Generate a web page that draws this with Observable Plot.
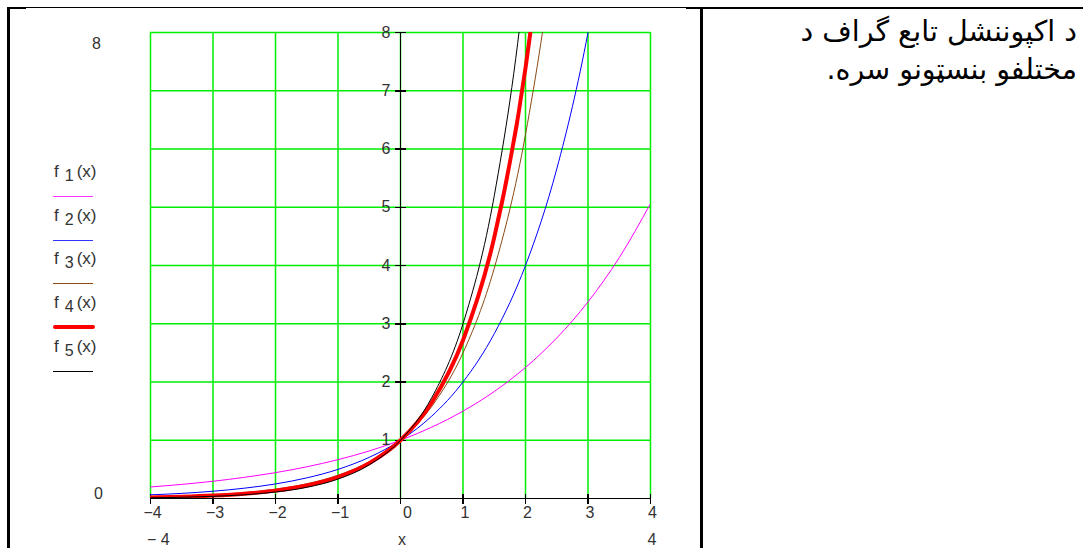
<!DOCTYPE html>
<html>
<head>
<meta charset="utf-8">
<script src="https://cdn.jsdelivr.net/npm/d3@7"></script>
<script src="https://cdn.jsdelivr.net/npm/@observablehq/plot@0.6"></script>
<style>
  html, body { margin: 0; padding: 0; background: #fff; }
  #wrap { position: relative; width: 1083px; height: 548px; overflow: hidden; font-family: "Liberation Sans", Arial, sans-serif; color: #222; }
  #chart { position: absolute; left: 0; top: 0; }
  .b { position: absolute; background: #000; }
  .lbl { position: absolute; font-size: 16px; line-height: 16px; color: #333; }
  .leg { position: absolute; left: 54px; font-size: 17px; line-height: 17px; color: #333; white-space: nowrap; }
  .leg sub { font-size: 16px; position: relative; top: 4px; vertical-align: baseline; margin: 0 3px 0 6px; }
  .legline { position: absolute; left: 53px; width: 40px; height: 0; }
  #title { position: absolute; right: 6px; top: 13px; direction: rtl; text-align: right; font-family: "DejaVu Sans", sans-serif; font-size: 28.5px; line-height: 38px; color: #000; white-space: nowrap; }
</style>
</head>
<body>
<div id="wrap">
  <div id="chart"></div>
  <!-- table borders -->
  <div class="b" style="left:7px;top:7px;width:3px;height:541px"></div>
  <div class="b" style="left:7px;top:7px;width:679px;height:1px"></div>
  <div class="b" style="left:7px;top:7px;width:19px;height:2px"></div>
  <div class="b" style="left:686px;top:7px;width:397px;height:2px"></div>
  <div class="b" style="left:700px;top:7px;width:3px;height:541px"></div>
  <div id="title"></div>
  <div id="legend"></div>
  <div id="outer"></div>
</div>
<script>
// ---- data ----
const xs = [-4, -3.5, -3, -2.5, -2, -1.5, -1, -0.5, 0, 0.5, 1, 1.5, 2, 2.5, 3, 3.5, 4];
const f1 = [0.198, 0.242, 0.296, 0.363, 0.444, 0.544, 0.667, 0.816, 1, 1.225, 1.5, 1.837, 2.25, 2.756, 3.375, 4.134, 5.063];
const f2 = [0.063, 0.088, 0.125, 0.177, 0.25, 0.354, 0.5, 0.707, 1, 1.414, 2, 2.828, 4, 5.657, 8, 11.31];
const f3 = [0.026, 0.040, 0.064, 0.101, 0.16, 0.253, 0.4, 0.632, 1, 1.581, 2.5, 3.953, 6.25, 9.88, 15.6];
const f4 = [0.018, 0.030, 0.050, 0.082, 0.135, 0.223, 0.368, 0.607, 1, 1.649, 2.718, 4.482, 7.389, 12.18, 20.09];
const f5 = [0.012, 0.021, 0.037, 0.064, 0.111, 0.192, 0.333, 0.577, 1, 1.732, 3, 5.196, 9, 15.59];

const seriesNames = ["f1", "f2", "f3", "f4", "f5"];
const seriesSubs = ["1", "2", "3", "4", "5"];
const seriesColors = ["#ff00ff", "#0000ff", "#8b4a14", "#ff0000", "#000000"];
const legendColors = ["#ff33ff", "#3333ff", "#8b4a14", "#ff0000", "#000000"];
const seriesWidths = [1, 1, 1, 4, 1];

const xTicks = [-4, -3, -2, -1, 0, 1, 2, 3, 4];
const xTickLabels = ["−4", "−3", "−2", "−1", "0", "1", "2", "3", "4"];
const yTicks = [1, 2, 3, 4, 5, 6, 7, 8];
const yTickLabels = ["1", "2", "3", "4", "5", "6", "7", "8"];
const xDomain = [-4, 4];
const yDomain = [0, 8];
const rangeLabels = {yTop: "8", yBottom: "0", xLeft: "− 4", xName: "x", xRight: "4"};
const titleLines = ["د اکپوننشل تابع گراف د", "مختلفو بنسټونو سره."];

// ---- build ----
const values = [f1, f2, f3, f4, f5];
const rows = [];
values.forEach((vals, i) => vals.forEach((v, j) => rows.push({series: seriesNames[i], x: xs[j], y: v})));

const hTick = {draw(ctx) { ctx.moveTo(-6, 0); ctx.lineTo(5, 0); }};
const vTick = {draw(ctx) { ctx.moveTo(0, -5); ctx.lineTo(0, 5); }};

const xLab = xTicks.map((v, i) => ({v, t: xTickLabels[i]}));
const yLab = yTicks.map((v, i) => ({v, t: yTickLabels[i]}));

const lineMarks = seriesNames.map((s, i) =>
  Plot.line(rows.filter(d => d.series === s), {
    x: "x", y: "y", stroke: seriesColors[i], strokeWidth: seriesWidths[i],
    curve: "monotone-x", clip: true
  })
);

const chart = Plot.plot({
  width: 700,
  height: 548,
  marginLeft: 150,
  marginRight: 50,
  marginTop: 32,
  marginBottom: 50,
  style: {fontFamily: "Liberation Sans, Arial, sans-serif", fontSize: "16px", color: "#333", background: "transparent"},
  x: {domain: xDomain, axis: null},
  y: {domain: yDomain, axis: null},
  marks: [
    Plot.ruleX(xTicks, {stroke: "#00ee00", strokeWidth: 1.5}),
    Plot.ruleY(yTicks, {stroke: "#00ee00", strokeWidth: 1.5}),
    Plot.ruleX([0], {stroke: "#000", shapeRendering: "crispEdges"}),
    Plot.ruleY([0], {stroke: "#000", shapeRendering: "crispEdges"}),
    Plot.dot(yTicks, {x: () => 0, y: d => d, symbol: hTick, stroke: "#000", fill: "none", shapeRendering: "crispEdges"}),
    Plot.dot(xTicks, {x: d => d, y: () => 0, symbol: vTick, stroke: "#000", fill: "none", shapeRendering: "crispEdges"}),
    ...lineMarks,
    Plot.text(yLab, {x: () => 0, y: "v", text: "t", textAnchor: "end", dx: -10, fill: "#333"}),
    Plot.text(xLab.filter(d => d.v !== 0), {x: "v", y: () => 0, text: "t", dy: 14, dx: 2, fill: "#333"}),
    Plot.text(xLab.filter(d => d.v === 0), {x: "v", y: () => 0, text: "t", dy: 14, dx: 7, fill: "#333"})
  ]
});
document.getElementById("chart").appendChild(chart);

// title
document.getElementById("title").innerHTML = titleLines.join("<br>");

// legend
const legend = document.getElementById("legend");
const legTop0 = 196, legStep = 43.7;
seriesNames.forEach((s, i) => {
  const ly = Math.round(legTop0 + i * legStep);
  const t = document.createElement("div");
  t.className = "leg";
  t.style.top = (ly - 33) + "px";
  t.innerHTML = `f<sub>${seriesSubs[i]}</sub>(x)`;
  legend.appendChild(t);
  const l = document.createElement("div");
  l.className = "legline";
  l.style.top = (ly - Math.floor(seriesWidths[i] / 2)) + "px";
  l.style.borderTop = `${seriesWidths[i]}px solid ${legendColors[i]}`;
  if (seriesWidths[i] > 1) { l.style.width = "42px"; l.style.borderRadius = "2px"; }
  legend.appendChild(l);
});

// outer range labels
const outer = document.getElementById("outer");
const place = (txt, left, top, align) => {
  const d = document.createElement("div");
  d.className = "lbl";
  d.textContent = txt;
  d.style.top = top + "px";
  if (align === "right") { d.style.right = (1083 - left) + "px"; }
  else if (align === "center") { d.style.left = (left - 20) + "px"; d.style.width = "40px"; d.style.textAlign = "center"; }
  else { d.style.left = left + "px"; }
  outer.appendChild(d);
};
place(rangeLabels.yTop, 101, 36, "right");
place(rangeLabels.yBottom, 103, 486, "right");
place(rangeLabels.xLeft, 147, 532, "left");
place(rangeLabels.xName, 402, 532, "center");
place(rangeLabels.xRight, 652, 532, "center");
</script>
</body>
</html>
